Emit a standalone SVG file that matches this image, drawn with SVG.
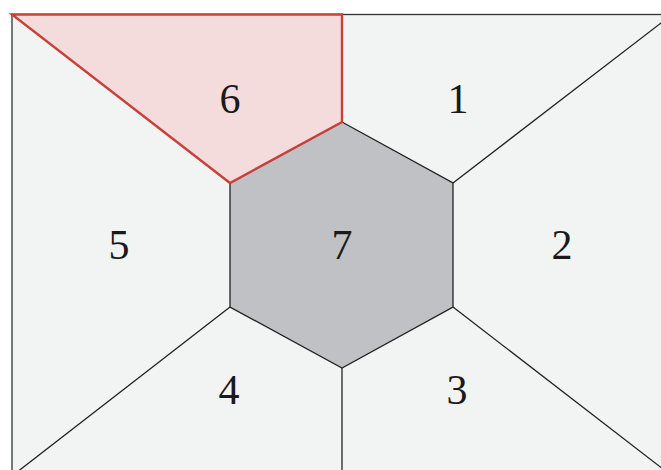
<svg xmlns="http://www.w3.org/2000/svg" width="661" height="470" viewBox="0 0 661 470">
<style>
.bg{fill:#f2f3f3;stroke:#333;stroke-width:1.3}
.ln{stroke:#222;stroke-width:1.3;fill:none}
.hex{fill:#c0c1c5;stroke:#222;stroke-width:1.3}
.hl{fill:#f5dcdc;stroke:#c8403a;stroke-width:2.4;stroke-linejoin:miter}
.t{font-family:"Liberation Serif","Times New Roman",serif;font-size:42px;fill:#1a1a1a;text-anchor:middle}
</style>
<rect class="bg" x="12" y="14.5" width="660" height="461"/>
<g id="region-7"><polygon class="hex" points="342,122 453,183 453,307 342,368 230,307 230,183"/><text class="t" x="342" y="259">7</text></g>
<g id="connectors">
<line class="ln" x1="453" y1="183" x2="672" y2="14.5"/>
<line class="ln" x1="453" y1="307" x2="672" y2="476"/>
<line class="ln" x1="342" y1="368" x2="342" y2="476"/>
<line class="ln" x1="230" y1="307" x2="12" y2="476"/>
</g>
<g id="region-6"><polygon class="hl" points="12,14.5 342,14.5 342,122 230,183"/><text class="t" x="230" y="113">6</text></g>
<g id="region-1"><text class="t" x="458" y="113">1</text></g>
<g id="region-2"><text class="t" x="562" y="259">2</text></g>
<g id="region-3"><text class="t" x="457" y="404">3</text></g>
<g id="region-4"><text class="t" x="229" y="404">4</text></g>
<g id="region-5"><text class="t" x="119" y="259">5</text></g>
</svg>
